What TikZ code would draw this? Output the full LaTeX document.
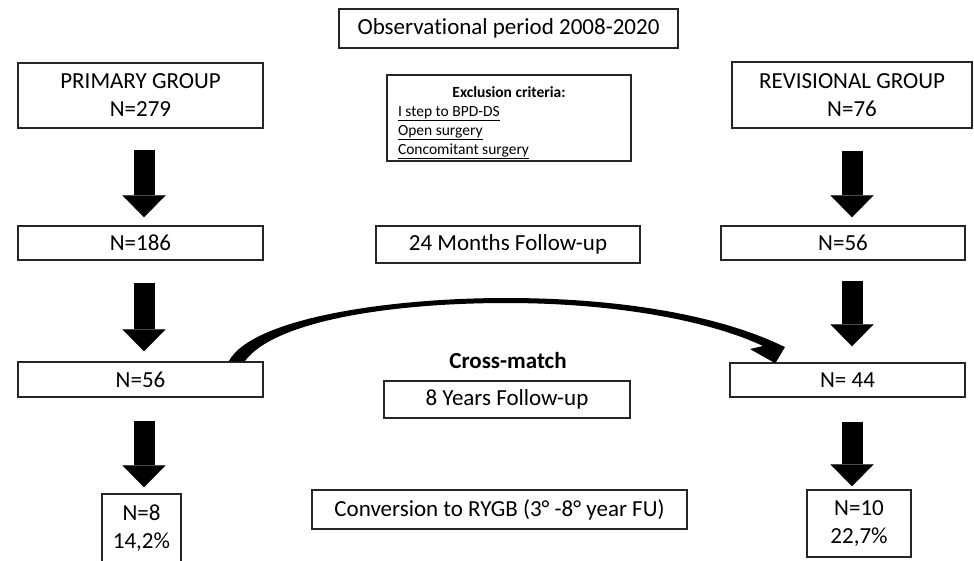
\documentclass[tikz,border=0pt]{standalone}
\usepackage{fontspec}
\setmainfont{Carlito}[Ligatures=NoCommon]
\usetikzlibrary{arrows.meta}

\begin{document}
\begin{tikzpicture}[x=1pt,y=-1pt,
  box/.style={draw=black!85, line width=1.4pt, inner sep=0pt, align=center,
    font=\fontsize{23}{28}\selectfont},
  smallbox/.style={box, align=left, font=\fontsize{15.5}{19}\selectfont},
  bigarrow/.style={line width=21pt,
    -{Triangle[length=22pt,width=43pt,line width=0.1pt]}}]
\useasboundingbox (0,0) rectangle (974,560);
% top row
\node[box, minimum width=339, minimum height=39] (period) at (508.5,28.5) {Observational period 2008-2020};
\node[box, minimum width=245, minimum height=65] (prim) at (140.5,95.5) {PRIMARY GROUP\\N=279};
\node[box, minimum width=240, minimum height=66] (rev) at (852,95) {REVISIONAL GROUP\\N=76};
\node[smallbox, minimum width=244, minimum height=86] (excl) at (509,118)
  {\rule{0pt}{20pt}\makebox[222pt][c]{\textbf{Exclusion criteria:}}\\
   \underline{I step to BPD-DS}\\
   \underline{Open surgery}\\
   \underline{Concomitant surgery}};
% 24 months
\node[box, minimum width=245, minimum height=34] (l186) at (140.5,243) {N=186};
\node[box, minimum width=264, minimum height=37] (fu24) at (508,244.5) {24 Months Follow-up};
\node[box, minimum width=244, minimum height=34] (r56) at (843,243) {N=56};
% 8 years
\node[box, minimum width=245, minimum height=35] (l56) at (140.5,379.5) {N=56};
\node[font=\fontsize{23}{28}\selectfont\bfseries] (cross) at (508,361) {Cross-match};
\node[box, minimum width=246, minimum height=37] (fu8) at (507,399.5) {8 Years Follow-up};
\node[box, minimum width=235, minimum height=34] (r44) at (847.5,380) {N= 44};
% conversion
\node[box, minimum width=79, minimum height=68] (l8) at (141.5,528) {N=8\\14,2\%};
\node[box, minimum width=375, minimum height=39] (conv) at (499.5,509.5) {Conversion to RYGB (3° -8° year FU)};
\node[box, minimum width=104, minimum height=67] (r10) at (859,523.5) {N=10\\22,7\%};
% block arrows
\coordinate (colL) at (144,0);
\coordinate (colR) at (852,0);
\draw[bigarrow, shorten <=21pt, shorten >=8pt] (prim.south -| colL) -- (l186.north -| colL);
\draw[bigarrow, shorten <=22pt, shorten >=10pt] (l186.south -| colL) -- (l56.north -| colL);
\draw[bigarrow, shorten <=23pt, shorten >=6pt] (l56.south -| colL) -- (l8.north -| colL);
\draw[bigarrow, shorten <=22pt, shorten >=8pt] (rev.south -| colR) -- (r56.north -| colR);
\draw[bigarrow, shorten <=20pt, shorten >=16pt] (r56.south -| colR) -- (r44.north -| colR);
\draw[bigarrow, shorten <=24pt, shorten >=3pt] (r44.south -| colR) -- (r10.north -| colR);
% curved cross-match arrow
\coordinate (xtail) at ([xshift=-27pt]l56.north east);
\coordinate (xtip) at ([xshift=46pt,yshift=-1pt]r44.north west);
\fill ([xshift=-8pt]xtail) .. controls (252,318) and (390,298) .. (506,298)
  .. controls (630,298) and (720,318) .. (774,342)
  -- (785,347) -- (xtip) -- (750,349) -- (763,346)
  .. controls (712,322) and (620,303) .. (506,303)
  .. controls (395,303) and (275,320) .. ([xshift=8pt]xtail) -- cycle;
\end{tikzpicture}
\end{document}
